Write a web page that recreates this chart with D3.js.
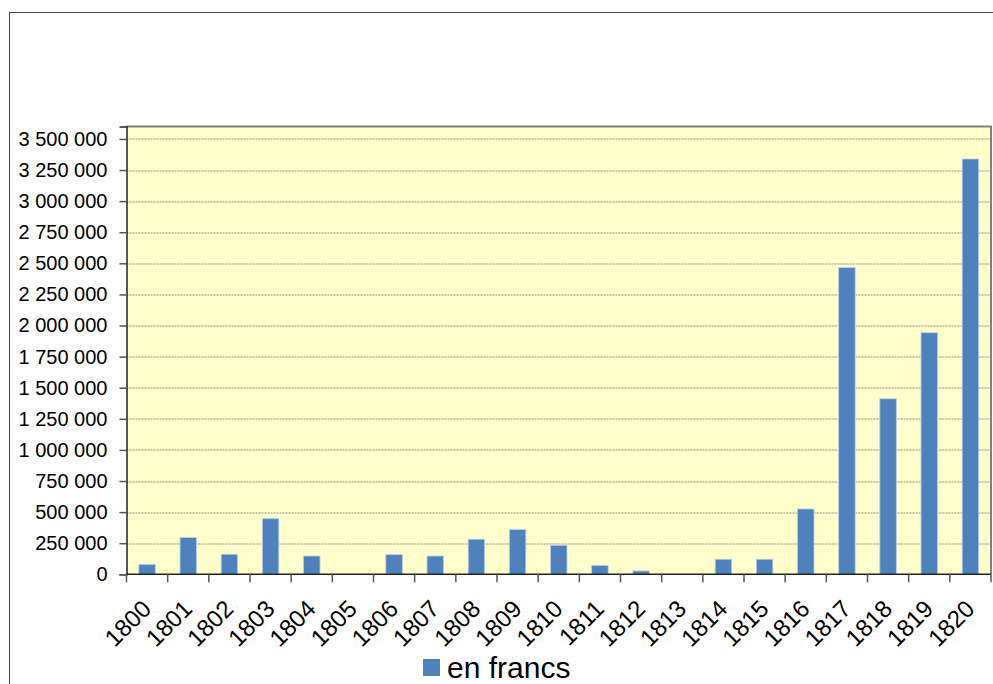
<!DOCTYPE html>
<html>
<head>
<meta charset="utf-8">
<script src="https://cdn.jsdelivr.net/npm/d3@7"></script>
<style>
  body { margin: 0; background: #fff; }
  svg { display: block; font-family: "Liberation Sans", Arial, sans-serif; }
</style>
</head>
<body>
<div id="chart-area"></div>
<script>
// data
var years = ["1800", "1801", "1802", "1803", "1804", "1805", "1806", "1807", "1808", "1809", "1810",
             "1811", "1812", "1813", "1814", "1815", "1816", "1817", "1818", "1819", "1820"];
var values = [80000, 295000, 161000, 447000, 147000, 0, 158000, 147000, 282000, 359000, 233000,
              72000, 27000, 0, 121000, 121000, 525000, 2465000, 1411000, 1942000, 3339000];
var yTicks = [0, 250000, 500000, 750000, 1000000, 1250000, 1500000, 1750000, 2000000,
              2250000, 2500000, 2750000, 3000000, 3250000, 3500000];
var seriesName = "en francs";

var barColor = "#4F81BD";
var width = 993, height = 684;
var margin = {top: 126.5, left: 126.5, right: 2, bottom: 109.7};
var plotW = width - margin.left - margin.right;
var plotH = height - margin.top - margin.bottom;

var svg = d3.select("#chart-area").append("svg")
    .attr("width", width)
    .attr("height", height);

// outer chart frame
svg.append("rect")
    .attr("x", 9.5).attr("y", 12.5)
    .attr("width", width).attr("height", height)
    .attr("fill", "none")
    .attr("stroke", "#444")
    .attr("stroke-width", 1);

var g = svg.append("g")
    .attr("transform", "translate(" + margin.left + "," + margin.top + ")");

var x = d3.scaleBand().domain(years).range([0, plotW]).paddingInner(0.6).paddingOuter(0.3);
var xTickScale = d3.scaleLinear().domain([0, years.length]).range([0, plotW]);
var y = d3.scaleLinear().domain([0, 3600000]).range([plotH, 0]);

// plot background
g.append("rect")
    .attr("width", plotW).attr("height", plotH)
    .attr("fill", "#FFFFCC");

// gridlines
g.selectAll("line.grid")
    .data(yTicks.filter(function(d) { return d > 0; }))
    .join("line")
    .attr("class", "grid")
    .attr("x1", 0).attr("x2", plotW)
    .attr("y1", function(d) { return Math.round(y(d)) + 0.5; })
    .attr("y2", function(d) { return Math.round(y(d)) + 0.5; })
    .attr("stroke", "#8c8c8c")
    .attr("stroke-width", 1)
    .attr("stroke-dasharray", "2,1");

// top/right border of plot
g.append("path")
    .attr("d", "M0,0H" + plotW + "V" + plotH)
    .attr("fill", "none")
    .attr("stroke", "#808080")
    .attr("stroke-width", 2);

// bars
g.selectAll("rect.bar")
    .data(values)
    .join("rect")
    .attr("class", "bar")
    .attr("x", function(d, i) { return x(years[i]); })
    .attr("width", x.bandwidth())
    .attr("y", function(d) { return y(d); })
    .attr("height", function(d) { return plotH - y(d); })
    .attr("fill", barColor)
    .attr("stroke", function(d) { return d > 0 ? "#b8cce4" : "none"; })
    .attr("stroke-width", 0.8);

// y axis
var yAxis = d3.axisLeft(y)
    .tickValues(yTicks)
    .tickSize(7)
    .tickPadding(12)
    .tickFormat(function(d) { return d3.format(",")(d).replace(/,/g, " "); });

var yg = g.append("g").call(yAxis);
yg.select(".domain").attr("stroke", "#222").attr("stroke-width", 1.5);
yg.selectAll(".tick line").attr("stroke", "#555").attr("stroke-width", 1.5);
yg.selectAll("text").attr("font-size", 20).attr("font-family", "Liberation Sans, Arial, sans-serif").attr("fill", "#000");

// x axis: ticks at category boundaries
var xg = g.append("g").attr("transform", "translate(0," + plotH + ")");
xg.append("line")
    .attr("x1", 0).attr("x2", plotW)
    .attr("stroke", "#222").attr("stroke-width", 1.5);
xg.selectAll("line.xtick")
    .data(d3.range(years.length + 1))
    .join("line")
    .attr("class", "xtick")
    .attr("x1", function(d) { return xTickScale(d); })
    .attr("x2", function(d) { return xTickScale(d); })
    .attr("y1", 0).attr("y2", 8)
    .attr("stroke", "#555").attr("stroke-width", 1.5);

xg.selectAll("text.xlab")
    .data(years)
    .join("text")
    .attr("class", "xlab")
    .attr("text-anchor", "end")
    .attr("font-size", 24)
    .attr("fill", "#000")
    .attr("transform", function(d) {
        var cx = x(d) + x.bandwidth() / 2 + 5.5;
        return "translate(" + cx + ",36) rotate(-45)";
    })
    .text(function(d) { return d; });

// legend
var legend = svg.append("g").attr("transform", "translate(423,659)");
legend.append("rect")
    .attr("width", 17).attr("height", 17)
    .attr("fill", barColor);
legend.append("text")
    .attr("x", 24).attr("y", 19)
    .attr("font-size", 30)
    .attr("fill", "#000")
    .text(seriesName);
</script>
</body>
</html>
